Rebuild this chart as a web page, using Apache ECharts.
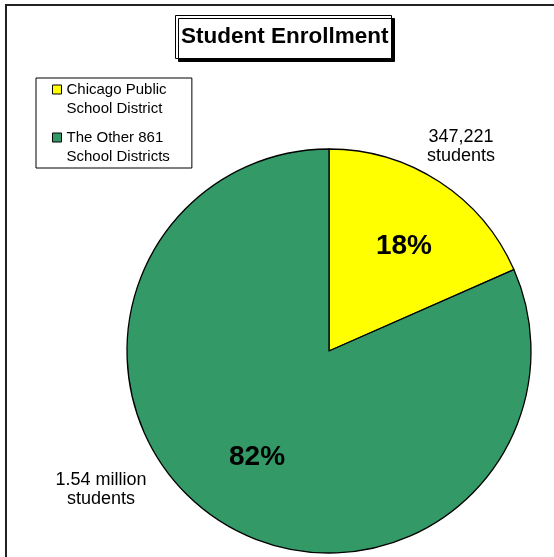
<!DOCTYPE html>
<html>
<head>
<meta charset="utf-8">
<script src="https://cdn.jsdelivr.net/npm/echarts@6/dist/echarts.min.js"></script>
<style>
html,body{margin:0;padding:0;background:#fff;}
#chart{width:554px;height:557px;}
</style>
</head>
<body>
<div id="chart"></div>
<script>
var categories = ['Chicago Public\nSchool District', 'The Other 861\nSchool Districts'];
var enrollment = [347221, 1540000];
var countLabels = ['347,221\nstudents', '1.54 million\nstudents'];
var sliceColors = ['#FFFF00', '#339966'];

var FONT = 'Liberation Sans, Arial, Helvetica, sans-serif';
var chart = echarts.init(document.getElementById('chart'), null, {renderer: 'canvas'});

function makeData(colored) {
  return categories.map(function (c, i) {
    return {
      name: c,
      value: enrollment[i],
      itemStyle: colored ? {color: sliceColors[i]} : {color: 'rgba(0,0,0,0)', borderWidth: 0}
    };
  });
}

var outerPos = [[461, 147], [101, 490]];
var pctNudge = [[5, 2], [-2, -1]];

chart.setOption({
  animation: false,
  backgroundColor: '#fff',
  graphic: [{
    type: 'rect',
    shape: {x: 6, y: 5, width: 700, height: 700},
    style: {fill: 'none', stroke: '#222', lineWidth: 2},
    silent: true,
    z: 0
  }],
  title: {
    text: 'Student Enrollment',
    left: 175,
    top: 15,
    padding: [10, 3, 11, 6],
    backgroundColor: '#fff',
    borderColor: '#000',
    borderWidth: 1,
    shadowColor: '#000',
    shadowOffsetX: 3,
    shadowOffsetY: 3,
    shadowBlur: 0,
    textStyle: {fontSize: 22.5, fontWeight: 'bold', fontFamily: FONT, color: '#000'}
  },
  legend: {
    orient: 'vertical',
    left: 36,
    top: 78,
    data: categories,
    icon: 'path://M0,0H9V9H0Z M0,28',
    itemWidth: 9,
    itemHeight: 28,
    itemGap: 10,
    borderColor: '#000',
    borderWidth: 1,
    padding: [2, 22, 2, 16],
    selectedMode: false,
    textStyle: {fontSize: 15, lineHeight: 19, fontFamily: FONT, color: '#000'},
    itemStyle: {borderColor: '#000', borderWidth: 1}
  },
  series: [{
    type: 'pie',
    center: [329, 351],
    radius: 202,
    startAngle: 90,
    clockwise: true,
    avoidLabelOverlap: false,
    silent: true,
    label: {show: false},
    labelLine: {show: false},
    itemStyle: {borderColor: '#000', borderWidth: 1.3},
    data: makeData(true)
  }, {
    type: 'pie',
    center: [329, 351],
    radius: 250,
    startAngle: 90,
    clockwise: true,
    avoidLabelOverlap: false,
    silent: true,
    labelLine: {show: false},
    label: {
      show: true,
      position: 'inside',
      rotate: 0,
      formatter: function (p) { return Math.round(p.percent) + '%'; },
      fontSize: 28,
      fontWeight: 'bold',
      fontFamily: FONT,
      color: '#000'
    },
    labelLayout: function (params) {
      var n = pctNudge[params.dataIndex];
      return {dx: n[0], dy: n[1]};
    },
    data: makeData(false)
  }, {
    type: 'pie',
    center: [329, 351],
    radius: 202,
    startAngle: 90,
    clockwise: true,
    avoidLabelOverlap: false,
    silent: true,
    labelLine: {show: false},
    label: {
      show: true,
      position: 'outside',
      formatter: function (p) { return countLabels[p.dataIndex]; },
      fontSize: 18,
      lineHeight: 19,
      fontFamily: FONT,
      color: '#000',
      align: 'center'
    },
    labelLayout: function (params) {
      var pos = outerPos[params.dataIndex];
      return {x: pos[0], y: pos[1], align: 'center', verticalAlign: 'middle'};
    },
    data: makeData(false)
  }]
});
</script>
</body>
</html>
